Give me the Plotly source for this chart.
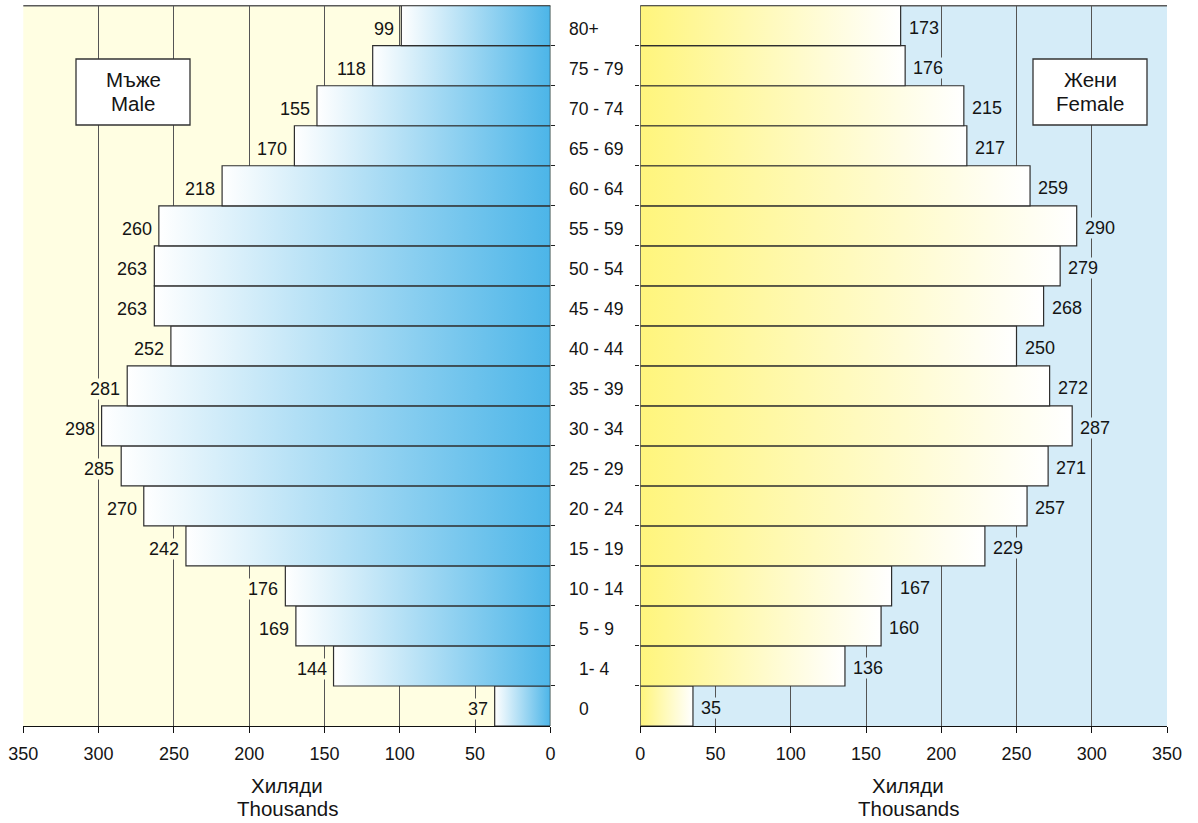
import plotly.graph_objects as go

# ---------------- data ----------------
age_groups = ["0", "1- 4", "5 - 9", "10 - 14", "15 - 19", "20 - 24", "25 - 29",
              "30 - 34", "35 - 39", "40 - 44", "45 - 49", "50 - 54", "55 - 59",
              "60 - 64", "65 - 69", "70 - 74", "75 - 79", "80+"]
male = [37, 144, 169, 176, 242, 270, 285, 298, 281, 252, 263, 263, 260, 218, 170, 155, 118, 99]
female = [35, 136, 160, 167, 229, 257, 271, 287, 272, 250, 268, 279, 290, 259, 217, 215, 176, 173]
x_ticks = [0, 50, 100, 150, 200, 250, 300, 350]
male_label = ["Мъже", "Male"]
female_label = ["Жени", "Female"]
axis_title = ["Хиляди", "Thousands"]

# ---------------- style ----------------
W, H = 1198, 823
FONT = "Liberation Sans, Arial, Helvetica, sans-serif"
TXT = "#141414"
BLUE = "#4cb5e8"
YELLOW = "#fff57c"
BG_LEFT = "#fffee2"
BG_RIGHT = "#d5ecf8"
GRID = "#555555"
OUTLINE = "#2e2e2e"

def px(v):
    return v / W

def py(v):
    return 1 - v / H

x1_dom = [px(23.3), px(550.4)]
x2_dom = [px(640.3), px(1167.0)]
y_dom = [py(726.0), py(5.7)]

fig = go.Figure()

n = len(age_groups)
for i, v in enumerate(male):
    fig.add_trace(go.Scatter(
        x=[0, v, v, 0, 0], y=[i - 0.5, i - 0.5, i + 0.5, i + 0.5, i - 0.5],
        mode="lines", fill="toself",
        fillgradient=dict(type="horizontal", colorscale=[[0, BLUE], [1, "#ffffff"]], start=0, stop=v),
        line=dict(color=OUTLINE, width=1.2),
        xaxis="x", yaxis="y", hoverinfo="skip", showlegend=False))
for i, v in enumerate(female):
    fig.add_trace(go.Scatter(
        x=[0, v, v, 0, 0], y=[i - 0.5, i - 0.5, i + 0.5, i + 0.5, i - 0.5],
        mode="lines", fill="toself",
        fillgradient=dict(type="horizontal", colorscale=[[0, YELLOW], [1, "#ffffff"]], start=0, stop=v),
        line=dict(color=OUTLINE, width=1.2),
        xaxis="x2", yaxis="y2", hoverinfo="skip", showlegend=False))

annotations = []
# value labels
for i, v in enumerate(male):
    annotations.append(dict(x=v, y=i, xref="x", yref="y", text=str(v), showarrow=False,
                            xanchor="right", yanchor="middle", xshift=-6, yshift=-3,
                            bgcolor=BG_LEFT, borderpad=0,
                            font=dict(family=FONT, size=18, color=TXT)))
for i, v in enumerate(female):
    annotations.append(dict(x=v, y=i, xref="x2", yref="y2", text=str(v), showarrow=False,
                            xanchor="left", yanchor="middle", xshift=7, yshift=-2,
                            bgcolor=BG_RIGHT, borderpad=0,
                            font=dict(family=FONT, size=18, color=TXT)))
# age group labels (aligned on the first number)
for i, g in enumerate(age_groups):
    first = g.replace("+", " ").replace("-", " ").split()[0]
    shift = (2 - len(first)) * 9.8
    annotations.append(dict(x=px(567), y=i, xref="paper", yref="y", text=g, showarrow=False,
                            xanchor="left", yanchor="middle", xshift=shift, yshift=-3,
                            font=dict(family=FONT, size=17.5, color=TXT)))

shapes = [
    dict(type="rect", xref="x domain", yref="y domain", x0=0, x1=1, y0=0, y1=1,
         fillcolor=BG_LEFT, line=dict(width=0), layer="below"),
    dict(type="rect", xref="x2 domain", yref="y2 domain", x0=0, x1=1, y0=0, y1=1,
         fillcolor=BG_RIGHT, line=dict(width=0), layer="below"),
    dict(type="line", xref="x domain", yref="y domain", x0=0, x1=1, y0=1, y1=1,
         line=dict(color="#5a5a5a", width=1.5), layer="below"),
    dict(type="line", xref="x2 domain", yref="y2 domain", x0=0, x1=1, y0=1, y1=1,
         line=dict(color="#5a5a5a", width=1.5), layer="below"),
]

# panel boxes (white boxes with two text lines)
for (x0, x1), lines in (((76, 190), male_label), ((1033, 1147), female_label)):
    shapes.append(dict(type="rect", xref="paper", yref="paper",
                       x0=px(x0), x1=px(x1), y0=py(125), y1=py(59),
                       fillcolor="#ffffff", line=dict(color="#333333", width=1.3), layer="above"))
    for k, t in enumerate(lines):
        annotations.append(dict(x=px((x0 + x1) / 2), y=py(79 + 24 * k), xref="paper", yref="paper",
                                text=t, showarrow=False, xanchor="center", yanchor="middle",
                                font=dict(family=FONT, size=20.5, color=TXT)))

# axis titles
for cx in (287, 908):
    for k, t in enumerate(axis_title):
        annotations.append(dict(x=px(cx), y=py(785 + 23 * k), xref="paper", yref="paper", text=t,
                                showarrow=False, xanchor="center", yanchor="middle",
                                font=dict(family=FONT, size=20.5, color=TXT)))

boundaries = [i + 0.5 for i in range(n - 1)]
common_x = dict(tickvals=x_ticks, ticktext=[str(t) for t in x_ticks], ticks="outside",
                ticklen=6, tickcolor="#111111", tickwidth=1.2, showline=True,
                linecolor="#111111", linewidth=1.2, showgrid=True, gridcolor=GRID,
                gridwidth=1.2, zeroline=False, ticklabelstandoff=5,
                tickfont=dict(family=FONT, size=18, color=TXT), automargin=False, fixedrange=True)
common_y = dict(range=[-0.5, n - 0.5], tickvals=boundaries, ticks="outside", ticklen=4,
                tickcolor="#222222", tickwidth=1.2, showticklabels=False, showgrid=False,
                zeroline=False, showline=False, domain=y_dom, automargin=False, fixedrange=True)

fig.update_layout(
    width=W, height=H, margin=dict(l=0, r=0, t=0, b=0),
    paper_bgcolor="#ffffff", plot_bgcolor="rgba(0,0,0,0)",
    xaxis=dict(domain=x1_dom, range=[350, 0], anchor="y", **common_x),
    xaxis2=dict(domain=x2_dom, range=[0, 350], anchor="y2", **common_x),
    yaxis=dict(anchor="x", side="right", **common_y),
    yaxis2=dict(anchor="x2", side="left", **common_y),
    annotations=annotations, shapes=shapes, showlegend=False,
    font=dict(family=FONT, color=TXT),
)

fig.write_html("out.html", config={"displayModeBar": False},
               post_script="document.body.style.margin='0';document.body.style.overflow='hidden';")
